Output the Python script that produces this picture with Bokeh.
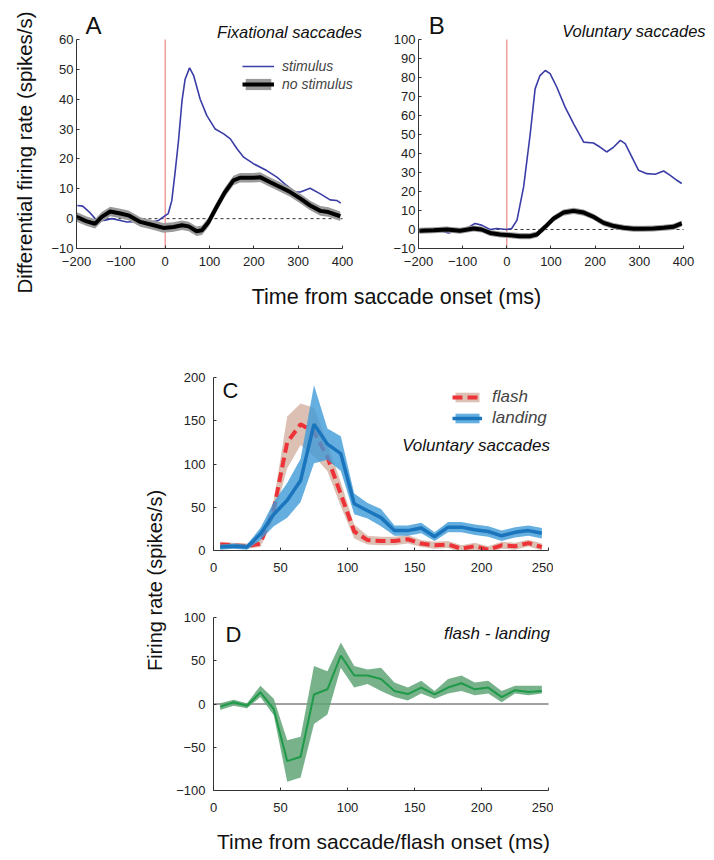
from bokeh.plotting import figure
from bokeh.layouts import column, row
from bokeh.models import Range1d, Label, Legend, LegendItem
from bokeh.embed import file_html
from bokeh.resources import INLINE

FONT = "Liberation Sans"

# ---------------- Panel A: Fixational saccades ----------------
a_stim_t = [-198, -186, -171, -158, -150, -135, -120, -101, -86, -56, -30, -15, -4, 7, 15, 22, 30, 38, 45, 55,
            64, 79, 94, 113, 132, 147, 162, 177, 199, 229, 252, 274, 293, 305, 327, 350, 372, 387, 396]
a_stim = [4.4, 4.2, 2.2, 0.0, -0.8, -0.5, 0.0, -0.6, -1.1, -0.9, -1.1, -0.6, 0.6, 1.7, 6.1, 15, 26, 39.5, 46.7, 50.5,
          48, 40, 34.5, 30, 28.4, 26.7, 23.4, 20.6, 18.4, 16.1, 13.9, 11.1, 8.9, 8.9, 10.2, 8.3, 6.3, 6.1, 5.2]
a_nostim_t = [-200, -177, -158, -143, -124, -101, -83, -56, -26, -4, 19, 38, 53, 71, 83, 98, 116, 135, 154, 169,
              199, 214, 237, 259, 282, 305, 327, 350, 368, 395]
a_nostim = [0.6, -0.9, -1.7, 0.6, 2.4, 1.7, 1.1, -1.1, -2.2, -3.1, -2.8, -2.2, -2.6, -4.2, -3.9, -1.1, 3.9, 8.9, 12.8,
            13.7, 13.7, 13.9, 12.2, 10.6, 8.9, 6.7, 4.4, 2.6, 2.2, 0.8]

# ---------------- Panel B: Voluntary saccades ----------------
b_stim_t = [-198, -174, -151, -132, -113, -91, -72, -57, -38, -23, 0, 11, 23, 38, 53, 64, 75, 87, 98, 113, 132,
            151, 174, 196, 211, 226, 242, 257, 268, 283, 298, 317, 336, 355, 370, 385, 396]
b_stim = [-1.2, 0.0, -0.7, -1.8, -0.7, 0.5, 3.2, 2.3, 0.0, 0.5, 0.0, 0.5, 4.9, 22.4, 50.4, 74, 81, 83.7, 82, 75,
          64.4, 55.7, 46, 45.5, 43.4, 40.8, 43.4, 46.9, 45.2, 38.2, 31.2, 29.4, 29.1, 30.8, 28.5, 25.9, 24.2]
b_nostim_t = [-198, -166, -136, -106, -75, -57, -38, -15, 8, 30, 53, 68, 87, 106, 128, 151, 174, 196, 219, 242,
              264, 287, 309, 332, 355, 377, 396]
b_nostim = [-0.7, -0.4, 0.0, -0.7, 0.5, 0.0, -1.8, -2.6, -3.0, -3.5, -3.5, -2.6, 1.4, 5.8, 8.9, 9.8, 8.9, 6.7,
            3.5, 1.8, 0.9, 0.4, 0.4, 0.5, 0.9, 1.4, 3.2]
nostim_sem = 1.6
onset = 0

# ---------------- Panel C / D ----------------
cd_t = [5, 15, 25, 35, 45, 55, 65, 75, 85, 95, 105, 115, 125, 135, 145, 155, 165, 175, 185, 195, 205, 215, 225, 235, 245]
flash = [7, 6, 5, 8, 48, 125, 146, 137, 108, 65, 22, 12, 11, 11, 13, 8, 6, 7, 2, 5, 1, 6, 5, 8.5, 4]
flash_err = [3, 3, 3, 4, 10, 30, 24, 28, 16, 14, 8, 5, 5, 5, 5, 4, 4, 4, 4, 4, 4, 4, 4, 4, 4]
landing = [4, 5, 4, 19, 42, 58, 81, 146, 123, 112, 54, 46, 38, 23, 23, 26, 16, 27, 27, 24, 22, 17, 21, 23, 20]
landing_err = [3, 3, 3, 7, 14, 20, 25, 45, 18, 20, 12, 9, 10, 6, 6, 6, 5, 6, 6, 6, 6, 6, 6, 6, 6]
diff = [-3, 2, -2, 13.5, -6, -66, -61, 11, 17, 56, 33, 33, 29, 15, 11.5, 19, 11, 19, 24, 17, 19, 8, 16, 14, 15]
diff_lo = [-7, -2, -5, 8, -13, -90, -85, -23, -12, 42, 19, 23, 15, 8, 4, 12, 6, 12, 15, 10, 12, 2, 12, 10, 12]
diff_hi = [1, 5, 1, 21, 6, -42, -38, 44, 38, 71, 44, 40, 42, 25, 19, 27, 15, 29, 33, 25, 27, 15, 21, 21, 21]

ab_xticks = [-200, -100, 0, 100, 200, 300, 400]
a_yticks = [-10, 0, 10, 20, 30, 40, 50, 60]
b_yticks = [-10, 0, 10, 20, 30, 40, 50, 60, 70, 80, 90, 100]
cd_xticks = [0, 50, 100, 150, 200, 250]
c_yticks = [0, 50, 100, 150, 200]
d_yticks = [-100, -50, 0, 50, 100]

STIM_BLUE = "#3a3da6"
RED_LINE = "#e8706a"


def make_fig(xr, yr, xticks, yticks, fw, fh, bl, br, bt, bb):
    p = figure(x_range=Range1d(*xr), y_range=Range1d(*yr), frame_width=fw, frame_height=fh,
               min_border_left=bl, min_border_right=br, min_border_top=bt, min_border_bottom=bb,
               output_backend="svg", toolbar_location=None)
    p.xgrid.visible = False
    p.ygrid.visible = False
    p.outline_line_color = None
    for ax in p.axis:
        ax.major_tick_in = 3
        ax.major_tick_out = 0
        ax.minor_tick_line_color = None
        ax.major_label_text_font = FONT
        ax.major_label_text_font_size = "13px"
        ax.major_label_text_color = "#222222"
        ax.axis_line_color = "#333333"
        ax.major_tick_line_color = "#333333"
    p.xaxis.ticker = xticks
    p.yaxis.ticker = yticks
    p.xaxis.bounds = (xticks[0], xticks[-1])
    p.yaxis.bounds = (yticks[0], yticks[-1])
    p.xaxis.major_label_standoff = 8
    p.yaxis.major_label_standoff = 3
    return p


def add_label(p, x, y, text, size, align="left", italic=False):
    p.add_layout(Label(x=x, y=y, text=text, text_font=FONT, text_font_size=size,
                       text_align=align, text_baseline="alphabetic",
                       text_font_style="italic" if italic else "normal", text_color="#111111"))


def label_fig(w, h, x, y, text, size, angle=0):
    p = figure(x_range=Range1d(0, w), y_range=Range1d(0, h), frame_width=w, frame_height=h,
               min_border=0, x_axis_location=None, y_axis_location=None,
               output_backend="svg", toolbar_location=None)
    p.xgrid.visible = False
    p.ygrid.visible = False
    p.outline_line_color = None
    p.add_layout(Label(x=x, y=y, text=text, text_font=FONT, text_font_size=size, angle=angle,
                       text_align="center", text_baseline="middle", text_color="#111111"))
    return p


def onset_lines(p, xticks, yticks):
    p.segment(x0=[xticks[0]], y0=[0], x1=[xticks[-1]], y1=[0], line_color="#333333", line_width=1,
              line_dash="3 3")
    p.segment(x0=[onset], y0=[yticks[0]], x1=[onset], y1=[yticks[-1]], line_color=RED_LINE, line_width=1)


# ---- A ----
pa = make_fig((-200, 445.1), (-10, 67.7), ab_xticks, a_yticks, 286, 232, 38, 0, 16, 32)
onset_lines(pa, ab_xticks, a_yticks)
ra_stim = pa.line(a_stim_t, a_stim, line_color=STIM_BLUE, line_width=1.6)
ra_band = pa.varea(x=a_nostim_t, y1=[v - nostim_sem for v in a_nostim], y2=[v + nostim_sem for v in a_nostim],
                   fill_color="#9a9a9a")
ra_line = pa.line(a_nostim_t, a_nostim, line_color="black", line_width=4)
add_label(pa, -179.7, 64.6, "A", "24px")
add_label(pa, 444, 62.6, "Fixational saccades", "16.5px", align="right", italic=True)
lega = Legend(items=[LegendItem(label="stimulus", renderers=[ra_stim]),
                     LegendItem(label="no stimulus", renderers=[ra_band, ra_line])],
              location=(166, 156), border_line_color=None, background_fill_alpha=0,
              padding=0, margin=0, spacing=2, glyph_width=32, glyph_height=14, label_height=14,
              label_standoff=8, label_text_font=FONT, label_text_font_style="italic",
              label_text_font_size="14px")
pa.add_layout(lega)

# ---- B ----
pb = make_fig((-200, 452.1), (-10, 112.1), ab_xticks, b_yticks, 288, 232, 56, 0, 16, 32)
onset_lines(pb, ab_xticks, b_yticks)
pb.line(b_stim_t, b_stim, line_color=STIM_BLUE, line_width=1.6)
pb.varea(x=b_nostim_t, y1=[v - nostim_sem for v in b_nostim], y2=[v + nostim_sem for v in b_nostim],
         fill_color="#9a9a9a")
pb.line(b_nostim_t, b_nostim, line_color="black", line_width=4)
add_label(pb, -177, 107.4, "B", "24px")
add_label(pb, 450, 104.7, "Voluntary saccades", "16.5px", align="right", italic=True)

top_ylabel = label_fig(38, 310, 24, 158, "Differential firing rate (spikes/s)", "20.5px", angle=1.5707963)
top_xlabel = label_fig(668, 30, 358, 14, "Time from saccade onset (ms)", "21.5px")

# ---- C ----
pc = make_fig((0, 253.7), (0, 200), cd_xticks, c_yticks, 340, 173, 45, 0, 67, 30)
pc.xaxis.major_label_standoff = 12
pc.yaxis.major_label_standoff = 8
rc_fband = pc.varea(x=cd_t, y1=[m - e for m, e in zip(flash, flash_err)],
                    y2=[m + e for m, e in zip(flash, flash_err)], fill_color="#dcc0b4")
rc_fline = pc.line(cd_t, flash, line_color="#ee3338", line_width=4, line_dash="10 5")
rc_lband = pc.varea(x=cd_t, y1=[m - e for m, e in zip(landing, landing_err)],
                    y2=[m + e for m, e in zip(landing, landing_err)], fill_color="#3d9ad8", fill_alpha=0.8)
rc_lline = pc.line(cd_t, landing, line_color="#1b75bc", line_width=3.5)
add_label(pc, 6.7, 185, "C", "22px")
add_label(pc, 251, 121, "Voluntary saccades", "17px", align="right", italic=True)
legc = Legend(items=[LegendItem(label="flash", renderers=[rc_fband, rc_fline]),
                     LegendItem(label="landing", renderers=[rc_lband, rc_lline])],
              location=(239, 122), border_line_color=None, background_fill_alpha=0,
              padding=0, margin=0, spacing=1, glyph_width=30, glyph_height=12, label_height=14,
              label_standoff=10, label_text_font=FONT, label_text_font_style="italic",
              label_text_font_size="17px")
pc.add_layout(legc)

# ---- D ----
pd_ = make_fig((0, 253.7), (-100, 100), cd_xticks, d_yticks, 340, 173, 45, 0, 37, 68)
pd_.xaxis.major_label_standoff = 12
pd_.yaxis.major_label_standoff = 8
pd_.xaxis.axis_label = "Time from saccade/flash onset (ms)"
pd_.xaxis.axis_label_text_font = FONT
pd_.xaxis.axis_label_text_font_size = "21px"
pd_.xaxis.axis_label_text_font_style = "normal"
pd_.xaxis.axis_label_text_color = "#111111"
pd_.xaxis.axis_label_standoff = 15
pd_.segment(x0=[cd_xticks[0]], y0=[0], x1=[cd_xticks[-1]], y1=[0], line_color="#444444", line_width=1)
pd_.varea(x=cd_t, y1=diff_lo, y2=diff_hi, fill_color="#5fa577", fill_alpha=0.85)
pd_.line(cd_t, diff, line_color="#1e9a48", line_width=2)
add_label(pd_, 9, 80.4, "D", "22px")
add_label(pd_, 251, 81.5, "flash - landing", "17px", align="right", italic=True)

cd_ylabel = label_fig(168, 548, 154, 278, "Firing rate (spikes/s)", "20px", angle=1.5707963)

layout = column(row(top_ylabel, column(row(pa, pb), top_xlabel)),
                row(cd_ylabel, column(pc, pd_)))

open("out.html", "w").write(file_html(layout, INLINE))
